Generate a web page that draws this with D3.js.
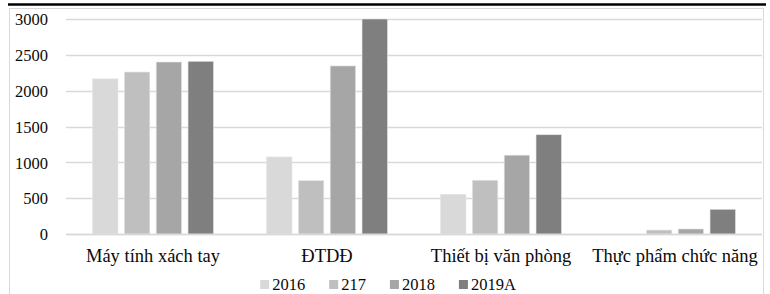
<!DOCTYPE html>
<html>
<head>
<meta charset="utf-8">
<script src="https://cdn.jsdelivr.net/npm/d3@7"></script>
<style>
  body { margin: 0; background: #fff; }
  svg text { font-family: "Liberation Serif", "Times New Roman", serif; fill: #0a0a0a; }
</style>
</head>
<body>
<svg id="chart"></svg>
<script>
// Categories and series
var categories = ["Máy tính xách tay", "ĐTDĐ", "Thiết bị văn phòng", "Thực phẩm chức năng"];
var series = ["2016", "217", "2018", "2019A"];
var colors = ["#d9d9d9", "#bfbfbf", "#a6a6a6", "#7f7f7f"];
var yTicks = [0, 500, 1000, 1500, 2000, 2500, 3000];

// Values per series, same order as categories
var v2016 = [2165, 1075, 555, 0];
var v217 = [2260, 745, 750, 55];
var v2018 = [2400, 2345, 1100, 70];
var v2019A = [2410, 3000, 1385, 345];
var values = [v2016, v217, v2018, v2019A];

var width = 770, height = 294;

var svg = d3.select("#chart")
    .attr("width", width)
    .attr("height", height);

// Chart frame
svg.append("rect")
    .attr("x", 9.5).attr("y", 8.5)
    .attr("width", 754).attr("height", 300)
    .attr("fill", "none")
    .attr("stroke", "#d9d9d9");

// Dark rule above the chart
svg.append("line")
    .attr("x1", 8).attr("x2", 766)
    .attr("y1", 4.5).attr("y2", 4.5)
    .attr("stroke", "#000")
    .attr("stroke-width", 2.5);

// Scales
var x0 = d3.scaleBand()
    .domain(categories)
    .range([66, 762]);

var x1 = d3.scaleBand()
    .domain(series)
    .range([26.5, 147.5])
    .paddingInner(0.2);

var y = d3.scaleLinear()
    .domain([0, 3000])
    .range([234, 19]);

// Gridlines
svg.append("g")
  .selectAll("line")
  .data(yTicks)
  .enter().append("line")
    .attr("x1", 66)
    .attr("x2", 762)
    .attr("y1", d => Math.round(y(d)) + 0.5)
    .attr("y2", d => Math.round(y(d)) + 0.5)
    .attr("stroke", "#d9d9d9")
    .attr("stroke-width", 1.5);

// Y axis labels
var yAxis = d3.axisLeft(y)
    .tickValues(yTicks)
    .tickFormat(d3.format("d"))
    .tickSize(0)
    .tickPadding(0);

svg.append("g")
    .attr("transform", "translate(48,0)")
    .call(yAxis)
    .call(g => g.select(".domain").remove())
    .selectAll("text")
      .attr("font-size", "16.5px")
      .attr("dy", "0.35em");

// Bars
var groups = svg.append("g")
  .selectAll("g")
  .data(categories)
  .enter().append("g")
    .attr("transform", d => "translate(" + x0(d) + ",0)");

groups.selectAll("rect")
  .data((c, i) => series.map((s, j) => ({ s: s, j: j, v: values[j][i] })))
  .enter().append("rect")
    .attr("x", d => x1(d.s))
    .attr("width", x1.bandwidth())
    .attr("y", d => y(d.v))
    .attr("height", d => y(0) - y(d.v))
    .attr("fill", d => colors[d.j])
    .attr("stroke", "#e6e6e6")
    .attr("stroke-width", 0.6);

// Zero line on top
svg.append("line")
    .attr("x1", 66).attr("x2", 762)
    .attr("y1", y(0) + 0.5).attr("y2", y(0) + 0.5)
    .attr("stroke", "#d9d9d9")
    .attr("stroke-width", 1.5);

// Category labels
var xAxis = d3.axisBottom(x0).tickSize(0).tickPadding(0);
svg.append("g")
    .attr("transform", "translate(0,262)")
    .call(xAxis)
    .call(g => g.select(".domain").remove())
    .selectAll("text")
      .attr("y", 0)
      .attr("font-size", "18.5px")
      .attr("dy", "0");

// Legend
var legend = svg.append("g");
var lx = 0;
series.forEach(function(s, i) {
  var item = legend.append("g").attr("transform", "translate(" + lx + ",0)");
  item.append("rect")
      .attr("x", 0).attr("y", -10)
      .attr("width", 9).attr("height", 9)
      .attr("fill", colors[i]);
  var t = item.append("text")
      .attr("x", 12).attr("y", 0)
      .attr("font-size", "16.5px")
      .text(s);
  lx += 12 + t.node().getComputedTextLength() + 24;
});
var legendWidth = lx - 24;
legend.attr("transform", "translate(" + (388 - legendWidth / 2) + ",290)");
</script>
</body>
</html>
